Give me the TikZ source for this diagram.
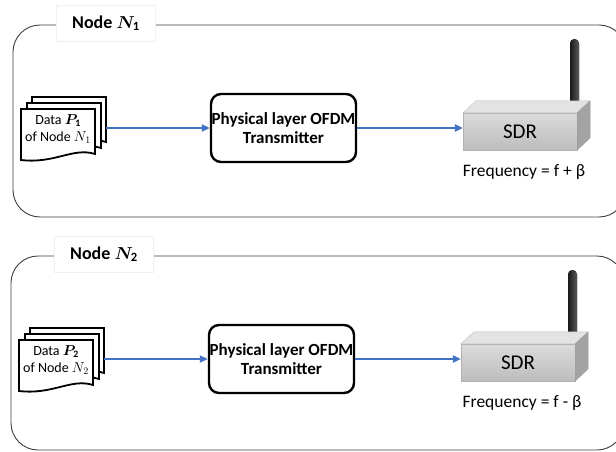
\documentclass[tikz,border=0pt]{standalone}
\usepackage{fontspec}
\usepackage{bm}
\setmainfont{Carlito}
\usetikzlibrary{arrows.meta}
\definecolor{arrblue}{HTML}{4472C4}
\definecolor{panelline}{HTML}{404040}
\newcommand{\docpage}[2]{%
  \filldraw[docline] (#1,#2) -- ++(74,0) -- ++(0,45)
    .. controls ++(-22,-7) and ++(34,4) .. ++(-74,6) -- cycle;}
\tikzset{
  panel/.style={draw=panelline, line width=0.9pt, rounded corners=27pt},
  titlebox/.style={fill=white, draw=black!6, minimum width=99pt, minimum height=36pt,
    inner sep=0pt, font=\fontsize{18}{20}\selectfont\bfseries},
  docline/.style={fill=white, draw=black, line width=1.8pt, line join=miter},
  datatext/.style={align=center, font=\fontsize{14}{17.5}\selectfont, inner sep=0pt},
  txbox/.style={draw=black, line width=2.4pt, rounded corners=10pt, minimum width=145pt,
    minimum height=68pt, align=center, inner sep=0pt, font=\fontsize{17}{19}\selectfont\bfseries},
  flow/.style={draw=arrblue, line width=2pt, -{Triangle[length=8pt,width=7pt]}},
  sdrfront/.style={top color=black!14, bottom color=black!26, draw=black!30, line width=0.3pt,
    minimum width=114pt, minimum height=37pt, inner sep=0pt, font=\fontsize{21}{23}\selectfont},
  sdrtop/.style={fill=black!11, draw=black!25, line width=0.3pt},
  sdrside/.style={fill=black!36, draw=black!40, line width=0.3pt},
  antenna/.style={left color=black!90, right color=black!65, rounded corners=4.5pt},
  freq/.style={font=\fontsize{17.5}{20}\selectfont, inner sep=0pt},
}
\begin{document}
\begin{tikzpicture}[x=1pt,y=-1pt]
\useasboundingbox[fill=white] (0,0) rectangle (616,452);
\begin{scope}
  \clip (0,0) rectangle (616,452);
  % ---------- panel 1 ----------
  \draw[panel] (13,25) rectangle (626,217);
  \node[titlebox] (h1) at (106,23) {Node $\bm{N}_{\mathbf{1}}$};
  \docpage{32}{97}
  \docpage{27}{103}
  \docpage{21}{109}
  \coordinate (d1e) at (106,128);
  \node[datatext] (d1) at (58,129) {Data $\bm{P}_{\mathbf{1}}$\\of Node $N_1$};
  \node[txbox] (t1) at (283.5,128) {Physical layer OFDM\\Transmitter};
  \fill[antenna] (570,39) rectangle (579,108);
  \node[sdrfront] (s1) at (520,131.5) {SDR};
  \filldraw[sdrtop] (s1.north west) -- ++(13,-12) -- ++(114,0) -- (s1.north east) -- cycle;
  \filldraw[sdrside] (s1.north east) -- ++(13,-12) -- ++(0,37) -- (s1.south east) -- cycle;
  \node[freq] (f1) at (524,172) {Frequency = f + β};
  \draw[flow] (d1e) -- (t1.west);
  \draw[flow] (t1.east) -- (t1.east -| s1.west);
  % ---------- panel 2 ----------
  \begin{scope}[shift={(-2,231)}]
  \draw[panel] (13,25) rectangle (626,219);
  \node[titlebox] (h2) at (106,23) {Node $\bm{N}_{\mathbf{2}}$};
  \docpage{32}{97}
  \docpage{27}{103}
  \docpage{21}{109}
  \coordinate (d2e) at (106,128);
  \node[datatext] (d2) at (58,129) {Data $\bm{P}_{\mathbf{2}}$\\of Node $N_2$};
  \node[txbox] (t2) at (283.5,128) {Physical layer OFDM\\Transmitter};
  \fill[antenna] (570,39) rectangle (579,108);
  \node[sdrfront] (s2) at (520,131.5) {SDR};
  \filldraw[sdrtop] (s2.north west) -- ++(13,-12) -- ++(114,0) -- (s2.north east) -- cycle;
  \filldraw[sdrside] (s2.north east) -- ++(13,-12) -- ++(0,37) -- (s2.south east) -- cycle;
  \node[freq] (f2) at (524,172) {Frequency = f - β};
  \draw[flow] (d2e) -- (t2.west);
  \draw[flow] (t2.east) -- (t2.east -| s2.west);
  \end{scope}
\end{scope}
\end{tikzpicture}
\end{document}
